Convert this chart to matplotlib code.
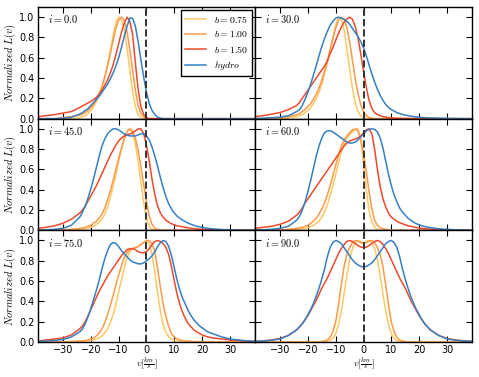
import matplotlib
matplotlib.use("Agg")
import matplotlib.pyplot as plt

plt.rcParams['mathtext.fontset'] = 'cm'
plt.rcParams['font.family'] = 'DejaVu Sans'

# velocity grid (km/s)
V = [-39, -36, -33, -30, -27,
     -24, -23, -22, -21, -20, -19, -18, -17, -16, -15, -14, -13,
     -12, -11, -10, -9, -8, -7, -6, -5, -4, -3, -2, -1,
     0,
     1, 2, 3, 4, 5, 6, 7, 8, 9, 10, 11, 12,
     13, 14, 15, 16, 17, 18, 19, 20, 21, 22, 23, 24,
     27, 30, 33, 36, 39]

Z5 = [0, 0, 0, 0, 0]
Z12 = [0] * 12

# ---- i = 0 ----
i00_b075 = (Z5 + [0.01, 0.02, 0.03, 0.05, 0.08, 0.12, 0.17, 0.23, 0.31, 0.41, 0.53, 0.67]
            + [0.82, 0.95, 1.0, 0.97, 0.88, 0.70, 0.48, 0.27, 0.12, 0.04, 0.01, 0.0]
            + [0.0] + Z12 + Z12 + Z5)
i00_b100 = ([0, 0, 0, 0.01, 0.02] + [0.035, 0.045, 0.06, 0.08, 0.11, 0.14, 0.19, 0.25, 0.32, 0.41, 0.52, 0.64]
            + [0.77, 0.89, 0.97, 1.0, 0.97, 0.86, 0.68, 0.48, 0.28, 0.13, 0.05, 0.02]
            + [0.005] + Z12 + Z12 + Z5)
i00_b150 = ([0.02, 0.03, 0.04, 0.055, 0.07] + [0.11, 0.125, 0.14, 0.155, 0.17, 0.19, 0.21, 0.24, 0.28, 0.33, 0.38, 0.45]
            + [0.53, 0.63, 0.74, 0.85, 0.94, 1.0, 0.96, 0.83, 0.55, 0.29, 0.12, 0.04]
            + [0.01] + Z12 + Z12 + Z5)
i00_hyd = ([0, 0, 0, 0.005, 0.015] + [0.045, 0.06, 0.08, 0.10, 0.13, 0.16, 0.19, 0.22, 0.26, 0.30, 0.34, 0.39]
           + [0.45, 0.52, 0.60, 0.70, 0.81, 0.91, 0.99, 0.99, 0.91, 0.76, 0.58, 0.41]
           + [0.26] + [0.15, 0.08, 0.04, 0.015, 0.005, 0, 0, 0, 0, 0, 0, 0] + Z12 + Z5)

# ---- i = 30 ----
i30_b075 = ([0, 0, 0, 0, 0.01] + [0.02, 0.03, 0.04, 0.06, 0.08, 0.11, 0.15, 0.20, 0.26, 0.34, 0.44, 0.55]
            + [0.67, 0.80, 0.92, 1.0, 0.98, 0.88, 0.70, 0.49, 0.30, 0.16, 0.07, 0.03]
            + [0.01] + Z12 + Z12 + Z5)
i30_b100 = ([0, 0, 0.005, 0.01, 0.02] + [0.04, 0.05, 0.07, 0.09, 0.12, 0.15, 0.19, 0.24, 0.30, 0.38, 0.47, 0.57]
            + [0.68, 0.79, 0.89, 0.97, 1.0, 0.98, 0.90, 0.76, 0.58, 0.40, 0.25, 0.14]
            + [0.07] + [0.03, 0.01, 0.005, 0, 0, 0, 0, 0, 0, 0, 0, 0] + Z12 + Z5)
i30_b150 = ([0.02, 0.03, 0.045, 0.06, 0.09] + [0.13, 0.16, 0.20, 0.24, 0.28, 0.32, 0.36, 0.40, 0.44, 0.48, 0.52, 0.57]
            + [0.64, 0.70, 0.77, 0.84, 0.90, 0.95, 0.98, 1.0, 0.98, 0.91, 0.80, 0.64]
            + [0.47] + [0.31, 0.18, 0.10, 0.06, 0.04, 0.03, 0.02, 0.015, 0.01, 0.008, 0.006, 0.005]
            + [0.004, 0.003, 0.003, 0.002, 0.002, 0.001, 0.001, 0.001, 0, 0, 0, 0] + Z5)
i30_hyd = ([0.0, 0.005, 0.01, 0.015, 0.03] + [0.07, 0.09, 0.13, 0.19, 0.26, 0.34, 0.43, 0.52, 0.62, 0.71, 0.79, 0.86]
           + [0.92, 0.96, 0.99, 1.0, 0.99, 0.98, 0.96, 0.93, 0.89, 0.85, 0.81, 0.76]
           + [0.70] + [0.62, 0.53, 0.44, 0.36, 0.29, 0.23, 0.18, 0.14, 0.11, 0.09, 0.075, 0.06]
           + [0.05, 0.042, 0.035, 0.03, 0.025, 0.02, 0.017, 0.014, 0.012, 0.01, 0.008, 0.007]
           + [0.005, 0.003, 0.002, 0.001, 0])

# ---- i = 45 ----
i45_b075 = ([0, 0, 0, 0, 0.005] + [0.01, 0.01, 0.015, 0.02, 0.03, 0.04, 0.06, 0.08, 0.11, 0.16, 0.23, 0.32]
            + [0.43, 0.55, 0.68, 0.80, 0.91, 0.98, 1.0, 0.96, 0.85, 0.68, 0.47, 0.27]
            + [0.12] + [0.04, 0.01, 0, 0, 0, 0, 0, 0, 0, 0, 0, 0] + Z12 + Z5)
i45_b100 = ([0, 0, 0, 0.005, 0.01] + [0.02, 0.025, 0.03, 0.04, 0.05, 0.07, 0.09, 0.12, 0.16, 0.22, 0.30, 0.39]
            + [0.49, 0.60, 0.71, 0.81, 0.90, 0.97, 1.0, 0.98, 0.91, 0.79, 0.63, 0.45]
            + [0.28] + [0.14, 0.06, 0.02, 0.01, 0.005, 0, 0, 0, 0, 0, 0, 0] + Z12 + Z5)
i45_b150 = ([0.02, 0.03, 0.045, 0.07, 0.11] + [0.17, 0.20, 0.24, 0.29, 0.34, 0.39, 0.44, 0.50, 0.56, 0.62, 0.68, 0.74]
            + [0.79, 0.84, 0.88, 0.91, 0.93, 0.94, 0.95, 0.96, 0.98, 1.0, 1.0, 0.95]
            + [0.84] + [0.68, 0.50, 0.35, 0.24, 0.17, 0.13, 0.10, 0.08, 0.065, 0.055, 0.045, 0.04]
            + [0.035, 0.03, 0.025, 0.02, 0.017, 0.014, 0.012, 0.01, 0.008, 0.007, 0.006, 0.005]
            + [0.003, 0.002, 0.001, 0, 0])
i45_hyd = ([0, 0.005, 0.01, 0.02, 0.05] + [0.13, 0.18, 0.24, 0.32, 0.41, 0.51, 0.62, 0.73, 0.83, 0.90, 0.95, 0.98]
           + [1.0, 1.0, 0.99, 0.97, 0.95, 0.94, 0.93, 0.93, 0.93, 0.94, 0.95, 0.95]
           + [0.93] + [0.89, 0.82, 0.73, 0.63, 0.52, 0.42, 0.33, 0.26, 0.21, 0.17, 0.14, 0.12]
           + [0.10, 0.085, 0.07, 0.06, 0.05, 0.04, 0.035, 0.03, 0.025, 0.02, 0.017, 0.014]
           + [0.008, 0.005, 0.003, 0.001, 0])

# ---- i = 60 ----
i60_b075 = ([0, 0, 0, 0, 0.005] + [0.01, 0.01, 0.015, 0.02, 0.025, 0.035, 0.05, 0.07, 0.09, 0.13, 0.18, 0.25]
            + [0.34, 0.44, 0.55, 0.66, 0.77, 0.85, 0.91, 0.94, 0.97, 0.99, 1.0, 0.90]
            + [0.65] + [0.40, 0.19, 0.08, 0.03, 0.01, 0, 0, 0, 0, 0, 0, 0] + Z12 + Z5)
i60_b100 = ([0, 0, 0, 0.005, 0.01] + [0.02, 0.025, 0.03, 0.04, 0.05, 0.07, 0.09, 0.12, 0.16, 0.21, 0.27, 0.35]
            + [0.44, 0.54, 0.64, 0.74, 0.83, 0.89, 0.93, 0.96, 0.99, 1.0, 0.98, 0.90]
            + [0.76] + [0.58, 0.38, 0.21, 0.10, 0.05, 0.025, 0.015, 0.01, 0.005, 0, 0, 0] + Z12 + Z5)
i60_b150 = ([0.02, 0.03, 0.04, 0.06, 0.09] + [0.15, 0.18, 0.22, 0.27, 0.31, 0.35, 0.39, 0.43, 0.47, 0.51, 0.55, 0.59]
            + [0.63, 0.67, 0.71, 0.75, 0.79, 0.83, 0.86, 0.88, 0.89, 0.90, 0.91, 0.93]
            + [0.96] + [0.99, 1.0, 0.95, 0.80, 0.60, 0.43, 0.31, 0.23, 0.17, 0.13, 0.11, 0.09]
            + [0.075, 0.065, 0.055, 0.045, 0.04, 0.033, 0.028, 0.024, 0.02, 0.017, 0.014, 0.012]
            + [0.008, 0.005, 0.003, 0.002, 0.001])
i60_hyd = ([0.005, 0.005, 0.01, 0.02, 0.04] + [0.10, 0.14, 0.20, 0.28, 0.38, 0.49, 0.61, 0.73, 0.83, 0.91, 0.96, 0.98]
           + [0.98, 0.97, 0.95, 0.93, 0.91, 0.89, 0.87, 0.86, 0.86, 0.87, 0.89, 0.92]
           + [0.95] + [0.98, 0.995, 1.0, 0.995, 0.97, 0.91, 0.81, 0.68, 0.55, 0.44, 0.35, 0.28]
           + [0.22, 0.18, 0.15, 0.12, 0.10, 0.08, 0.065, 0.055, 0.045, 0.038, 0.032, 0.027]
           + [0.015, 0.01, 0.006, 0.003, 0.001])

# ---- i = 75 ----
i75_b075 = (Z5 + [0.005, 0.005, 0.01, 0.01, 0.015, 0.02, 0.03, 0.04, 0.06, 0.09, 0.13, 0.19]
            + [0.27, 0.37, 0.49, 0.61, 0.73, 0.83, 0.89, 0.92, 0.93, 0.94, 0.96, 0.98]
            + [1.0] + [0.97, 0.86, 0.68, 0.48, 0.30, 0.17, 0.09, 0.05, 0.025, 0.015, 0.01, 0.005]
            + Z12 + Z5)
i75_b100 = ([0, 0, 0, 0, 0.005] + [0.01, 0.01, 0.015, 0.02, 0.03, 0.04, 0.06, 0.09, 0.13, 0.19, 0.27, 0.36]
            + [0.46, 0.56, 0.66, 0.75, 0.83, 0.88, 0.91, 0.92, 0.93, 0.94, 0.96, 0.98]
            + [1.0] + [1.0, 0.97, 0.89, 0.72, 0.54, 0.37, 0.25, 0.15, 0.08, 0.05, 0.03, 0.02]
            + [0.015, 0.01, 0.008, 0.006, 0.005, 0.004, 0.003, 0.002, 0.002, 0.001, 0.001, 0]
            + Z5)
i75_b150 = ([0.01, 0.02, 0.03, 0.04, 0.07] + [0.13, 0.16, 0.20, 0.26, 0.32, 0.38, 0.44, 0.50, 0.55, 0.60, 0.65, 0.69]
            + [0.73, 0.77, 0.81, 0.85, 0.88, 0.91, 0.92, 0.92, 0.91, 0.89, 0.88, 0.88]
            + [0.89] + [0.92, 0.96, 0.99, 1.0, 0.99, 0.97, 0.93, 0.86, 0.74, 0.60, 0.47, 0.37]
            + [0.29, 0.23, 0.18, 0.15, 0.12, 0.10, 0.085, 0.07, 0.06, 0.05, 0.045, 0.04]
            + [0.03, 0.02, 0.015, 0.01, 0.005])
i75_hyd = ([0.005, 0.01, 0.015, 0.025, 0.05] + [0.10, 0.13, 0.18, 0.25, 0.33, 0.42, 0.51, 0.61, 0.72, 0.82, 0.90, 0.96]
           + [0.98, 0.97, 0.94, 0.90, 0.87, 0.84, 0.81, 0.79, 0.78, 0.77, 0.77, 0.78]
           + [0.80] + [0.82, 0.85, 0.89, 0.94, 0.98, 1.0, 0.99, 0.94, 0.85, 0.73, 0.61, 0.51]
           + [0.43, 0.37, 0.31, 0.26, 0.22, 0.19, 0.16, 0.14, 0.12, 0.10, 0.09, 0.08]
           + [0.05, 0.03, 0.02, 0.012, 0.008])

# ---- i = 90 ----
i90_b075 = (Z5 + [0, 0, 0, 0, 0, 0, 0, 0, 0, 0, 0, 0.005]
            + [0.015, 0.035, 0.08, 0.17, 0.30, 0.47, 0.65, 0.81, 0.92, 0.98, 1.0, 0.99]
            + [0.97] + [0.99, 1.0, 0.98, 0.92, 0.81, 0.65, 0.47, 0.30, 0.17, 0.08, 0.035, 0.015]
            + [0.005, 0, 0, 0, 0, 0, 0, 0, 0, 0, 0, 0] + Z5)
i90_b100 = (Z5 + [0, 0, 0, 0, 0, 0, 0, 0, 0, 0.005, 0.01, 0.02]
            + [0.045, 0.10, 0.20, 0.36, 0.56, 0.74, 0.86, 0.93, 0.98, 1.0, 0.995, 0.98]
            + [0.97] + [0.98, 0.995, 1.0, 0.98, 0.93, 0.86, 0.74, 0.56, 0.36, 0.20, 0.10, 0.045]
            + [0.02, 0.01, 0.005, 0, 0, 0, 0, 0, 0, 0, 0, 0] + Z5)
i90_b150 = ([0.007, 0.012, 0.02, 0.035, 0.065] + [0.12, 0.15, 0.18, 0.22, 0.26, 0.31, 0.36, 0.41, 0.47, 0.53, 0.58, 0.63]
            + [0.69, 0.75, 0.81, 0.87, 0.92, 0.96, 0.99, 1.0, 0.99, 0.97, 0.95, 0.935]
            + [0.93] + [0.935, 0.95, 0.97, 0.99, 1.0, 0.99, 0.96, 0.92, 0.87, 0.81, 0.75, 0.69]
            + [0.63, 0.58, 0.53, 0.47, 0.41, 0.36, 0.31, 0.26, 0.22, 0.18, 0.15, 0.12]
            + [0.065, 0.035, 0.02, 0.012, 0.007])
i90_hyd = ([0.006, 0.01, 0.018, 0.03, 0.065] + [0.12, 0.15, 0.18, 0.22, 0.27, 0.32, 0.38, 0.45, 0.53, 0.62, 0.72, 0.84]
           + [0.93, 0.98, 1.0, 0.99, 0.97, 0.93, 0.89, 0.85, 0.81, 0.78, 0.76, 0.745]
           + [0.74] + [0.745, 0.76, 0.78, 0.81, 0.85, 0.89, 0.93, 0.97, 0.99, 1.0, 0.98, 0.93]
           + [0.84, 0.72, 0.62, 0.53, 0.45, 0.38, 0.32, 0.27, 0.22, 0.18, 0.15, 0.12]
           + [0.065, 0.03, 0.018, 0.01, 0.006])

inclinations = ['0.0', '30.0', '45.0', '60.0', '75.0', '90.0']
panels = [
    [i00_b075, i00_b100, i00_b150, i00_hyd],
    [i30_b075, i30_b100, i30_b150, i30_hyd],
    [i45_b075, i45_b100, i45_b150, i45_hyd],
    [i60_b075, i60_b100, i60_b150, i60_hyd],
    [i75_b075, i75_b100, i75_b150, i75_hyd],
    [i90_b075, i90_b100, i90_b150, i90_hyd],
]
labels = [r'$b = 0.75$', r'$b = 1.00$', r'$b = 1.50$', r'$hydro$']
colors = ['#fec864', '#fd9a4a', '#ef4a2c', '#3580c4']

fig, axes = plt.subplots(3, 2, figsize=(4.79, 3.77), dpi=100, sharex=True, sharey=True)
fig.subplots_adjust(left=0.0793, right=0.9854, top=0.9814, bottom=0.0928,
                    hspace=0.0, wspace=0.0)

for k, ax in enumerate(axes.flat):
    curves = panels[k]
    for c, (y, lab, col) in enumerate(zip(curves, labels, colors)):
        ax.plot(V, y, color=col, lw=1.1, label=lab, zorder=2 + c * 0.1)
    ax.axvline(0, color='#333333', ls='--', lw=1.4, zorder=3)
    ax.set_xlim(-39, 39)
    ax.set_ylim(0, 1.1)
    ax.set_xticks([-30, -20, -10, 0, 10, 20, 30])
    ax.set_yticks([0.0, 0.2, 0.4, 0.6, 0.8, 1.0])
    ax.tick_params(direction='in', top=True, right=True, length=4, width=0.8,
                   labelsize=7, pad=2.5)
    for sp in ax.spines.values():
        sp.set_linewidth(1.0)
    ax.text(0.045, 0.89, r'$i = %s$' % inclinations[k], transform=ax.transAxes,
            fontsize=7.5, va='center', ha='left')
    row, col = divmod(k, 2)
    if col == 0:
        ax.set_ylabel(r'$Normalized\ L(v)$', fontsize=7.5, labelpad=1)
        ax.set_yticklabels(['0.0', '0.2', '0.4', '0.6', '0.8', '1.0'])
    if row == 2:
        ax.set_xlabel(r'$v[\frac{km}{s}]$', fontsize=7, labelpad=0.5)

leg = axes[0, 0].legend(loc='upper right', fontsize=7, fancybox=False, framealpha=1,
                        edgecolor='black', borderaxespad=0.3, handlelength=2.2,
                        labelspacing=0.45, borderpad=0.4)
leg.get_frame().set_linewidth(1.0)

fig.savefig('out.png', dpi=100)
